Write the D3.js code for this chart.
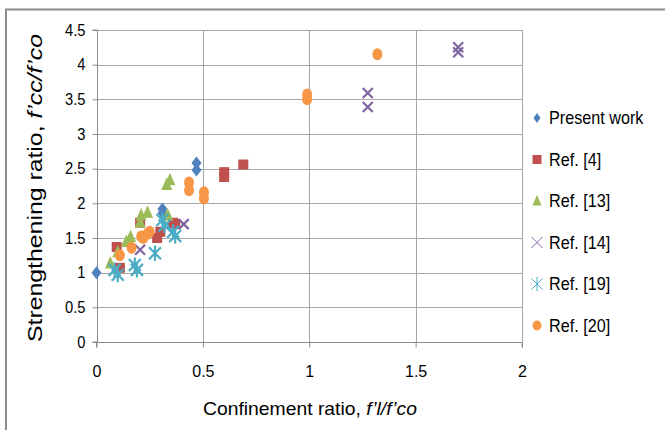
<!DOCTYPE html>
<html><head><meta charset="utf-8">
<script src="https://cdn.jsdelivr.net/npm/d3@7"></script>
<style>body{margin:0;background:#fff}svg{display:block}text{font-family:"Liberation Sans",Arial,sans-serif}</style>
</head><body><svg id="c" width="665" height="430"></svg>
<script>
const xTicks=[0,0.5,1,1.5,2];
const yTicks=[0,0.5,1,1.5,2,2.5,3,3.5,4,4.5];
const seriesNames=["Present work","Ref. [4]","Ref. [13]","Ref. [14]","Ref. [19]","Ref. [20]"];
const seriesColors=["#4F81BD","#C0504D","#9BBB59","#8064A2","#4BACC6","#F79646"];
const seriesShapes=["diamond","square","triangle","x","star","circle"];
const presentWork=[[0,1.0],[0.47,2.58],[0.47,2.48],[0.31,1.92],[0.31,1.86]];
const ref4=[[0.60,2.38],[0.60,2.45],[0.69,2.56],[0.205,1.72],[0.095,1.37],[0.11,1.07],[0.285,1.5],[0.36,1.72],[0.30,1.59],[0.37,1.70]];
const ref13=[[0.33,2.27],[0.345,2.34],[0.24,1.87],[0.205,1.73],[0.16,1.52],[0.10,1.30],[0.065,1.14],[0.335,1.83],[0.21,1.83],[0.14,1.45]];
const ref14=[[1.70,4.18],[1.70,4.25],[1.275,3.59],[1.275,3.39],[0.41,1.70],[0.205,1.33]];
const ref19=[[0.085,1.04],[0.18,1.11],[0.275,1.28],[0.31,1.76],[0.36,1.59],[0.37,1.53],[0.19,1.04],[0.10,0.97],[0.32,1.68]];
const ref20=[[1.32,4.15],[0.99,3.57],[0.99,3.50],[0.435,2.30],[0.435,2.19],[0.505,2.16],[0.505,2.07],[0.11,1.25],[0.165,1.36],[0.22,1.50],[0.25,1.59],[0.24,1.56],[0.21,1.52]];
const allSeries=[presentWork,ref4,ref13,ref14,ref19,ref20];

const svg=d3.select("#c");
const L=96.5,R=522,T=30,B=342;
const x=d3.scaleLinear().domain([0,2]).range([L,R]);
const y=d3.scaleLinear().domain([0,4.5]).range([B,T]);

// outer frame
svg.append("path").attr("d","M6,430 L6,9.5 L665,9.5").attr("fill","none").attr("stroke","#8c8c8c").attr("stroke-width",2);

// grid
const g=svg.append("g");
g.selectAll(".gy").data(yTicks.slice(1)).join("line").attr("x1",L).attr("x2",R).attr("y1",d=>Math.round(y(d))+0.5).attr("y2",d=>Math.round(y(d))+0.5).attr("stroke","#a6a6a6");
g.selectAll(".gx").data(xTicks.slice(1)).join("line").attr("y1",T).attr("y2",B).attr("x1",d=>Math.round(x(d))+0.5).attr("x2",d=>Math.round(x(d))+0.5).attr("stroke","#a6a6a6");

// axes
const xa=svg.append("g").attr("transform",`translate(0,${Math.round(B)+0.5})`).call(d3.axisBottom(x).tickValues(xTicks).tickSize(5).tickPadding(18).tickFormat(d=>d3.format("")(d)));
const ya=svg.append("g").attr("transform",`translate(${Math.round(L)+0.5},0)`).call(d3.axisLeft(y).tickValues(yTicks).tickSize(5).tickPadding(7).tickFormat(d=>d3.format("")(d)));
[xa,ya].forEach(a=>{a.select(".domain").attr("stroke","#8c8c8c");a.selectAll(".tick line").attr("stroke","#8c8c8c");a.selectAll("text").attr("font-size",16).attr("fill","#000").attr("font-family","Liberation Sans, Arial, sans-serif");});
ya.selectAll("text").attr("transform","scale(0.92,1)").attr("x",-13);
xa.select(".domain").attr("d",`M${L},5V0H${R}V5`);
ya.select(".domain").attr("d",`M-5,${y(4.5)}H0V${B}H-5`);

// symbols
function sym(shape,s){
  const h=s/2;
  switch(shape){
    case "diamond": return `M0,${-h-1.5}L${h},0L0,${h+1.5}L${-h},0Z`;
    case "square": return `M${-h},${-h}H${h}V${h}H${-h}Z`;
    case "triangle": return `M0,${-h-1.5}L${h},${h}L${-h},${h}Z`;
    case "x": return `M${-h},${-h}L${h},${h}M${h},${-h}L${-h},${h}`;
    case "star": return `M${-h},${-h}L${h},${h}M${h},${-h}L${-h},${h}M0,${-h-1.5}V${h+1.5}`;
  }
}
const sizes=[10,10,11,10,12,10];
allSeries.forEach((data,i)=>{
  const sh=seriesShapes[i],col=seriesColors[i],sz=sizes[i];
  const grp=svg.append("g");
  if(sh==="circle"){
    grp.selectAll("ellipse").data(data).join("ellipse").attr("cx",d=>x(d[0])).attr("cy",d=>y(d[1])).attr("rx",5).attr("ry",6).attr("fill",col);
  } else {
    const stroke=(sh==="x"||sh==="star");
    grp.selectAll("path").data(data).join("path").attr("transform",d=>`translate(${x(d[0])},${y(d[1])})`).attr("d",sym(sh,sz))
      .attr("fill",stroke?"none":col).attr("stroke",stroke?col:"none").attr("stroke-width",stroke?2.2:0);
  }
});

// legend
const leg=svg.append("g");
const ly=[118,159.5,201,242.5,284,325.5];
const legW=[99,60,69,69,69,69];
seriesNames.forEach((n,i)=>{
  const sh=seriesShapes[i],col=seriesColors[i];
  const gg=leg.append("g").attr("transform",`translate(537,${ly[i]})`);
  if(sh==="circle") gg.append("ellipse").attr("rx",4.5).attr("ry",5).attr("fill",col);
  else if(sh==="x"||sh==="star") gg.append("path").attr("d",sym(sh,11)).attr("fill","none").attr("stroke",col).attr("stroke-width",1);
  else gg.append("path").attr("d",sym(sh,sh==="diamond"?7:9)).attr("fill",col);
  leg.append("text").attr("x",549).attr("y",ly[i]).attr("dy","0.36em").attr("font-size",18).attr("transform",`translate(549,0) scale(0.9,1) translate(-549,0)`).text(n);
});

// axis titles
const xt=svg.append("text").attr("x",310).attr("y",415).attr("text-anchor","middle").attr("font-size",19).attr("textLength",214).attr("lengthAdjust","spacingAndGlyphs");
xt.append("tspan").text("Confinement ratio, ");
xt.append("tspan").attr("font-style","italic").text("f\u2019l/f\u2019co");
const yt=svg.append("text").attr("transform","translate(42,188) rotate(-90)").attr("text-anchor","middle").attr("font-size",20).attr("textLength",308).attr("lengthAdjust","spacingAndGlyphs");
yt.append("tspan").text("Strengthening ratio, ");
yt.append("tspan").attr("font-style","italic").text("f\u2019cc/f\u2019co");
</script></body></html>
